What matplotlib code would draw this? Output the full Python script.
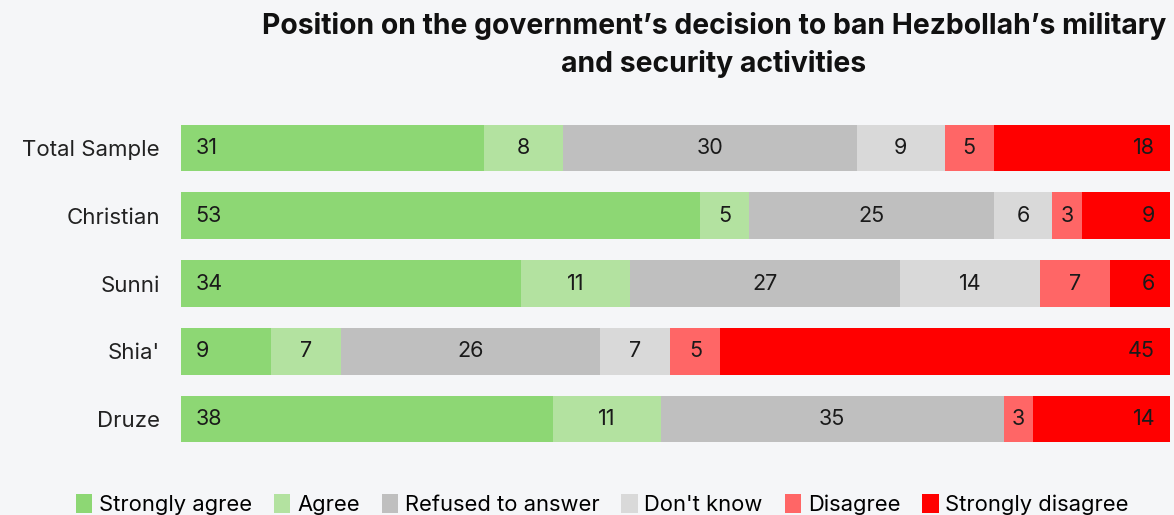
import numpy as np
import matplotlib.pyplot as plt

plt.rcParams['font.family'] = ['Inter', 'DejaVu Sans']

groups = ["Total Sample", "Christian", "Sunni", "Shia'", "Druze"]
series = ["Strongly agree", "Agree", "Refused to answer", "Don't know",
          "Disagree", "Strongly disagree"]
colors = ["#8DD774", "#B3E2A0", "#BFBFBF", "#D9D9D9", "#FF6666", "#FF0000"]

strongly_agree = [31, 53, 34, 9, 38]
agree = [8, 5, 11, 7, 11]
refused = [30, 25, 27, 26, 35]
dont_know = [9, 6, 14, 7, 0]
disagree = [5, 3, 7, 5, 3]
strongly_disagree = [18, 9, 6, 45, 14]

vals = np.array([strongly_agree, agree, refused, dont_know, disagree,
                 strongly_disagree], dtype=float)
# 100% stacked: each row spans the full width
widths = vals / vals.sum(axis=0) * 100

bg = "#F5F6F8"
fig = plt.figure(figsize=(11.74, 5.15), dpi=100, facecolor=bg)
ax = fig.add_axes([0.154, 0.1204, 0.8426, 0.6582], facecolor=bg)

y = np.arange(len(groups))
left = np.zeros(len(groups))
for i, name in enumerate(series):
    bars = ax.barh(y, widths[i], left=left, height=0.69, color=colors[i],
                   label=name)
    for j, b in enumerate(bars):
        v = vals[i, j]
        if v == 0:
            continue
        if i == 0:
            x, ha = left[j] + 1.5, "left"
        elif i == len(series) - 1:
            x, ha = left[j] + widths[i, j] - 1.5, "right"
        else:
            x, ha = left[j] + widths[i, j] / 2, "center"
        ax.text(x, y[j], f"{int(v)}", ha=ha, va="center", fontsize=15.5,
                color="#1a1a1a")
    left += widths[i]

ax.set_xlim(0, 100)
ax.set_ylim(4.5, -0.5)
ax.set_yticks(y)
ax.set_yticklabels(groups, fontsize=16, color="#222222")
ax.tick_params(axis="y", length=0, pad=15)
ax.set_xticks([])
for s in ax.spines.values():
    s.set_visible(False)

fig.text(0.608, 0.913, "Position on the government\u2019s decision to ban Hezbollah\u2019s military\nand security activities",
         ha="center", va="center", fontsize=20.4, fontweight="bold",
         linespacing=1.45, color="#111111")

fig.legend(loc="center", bbox_to_anchor=(0.513, 0.02), ncol=6, frameon=False,
           fontsize=15.8, handlelength=0.75, handleheight=0.9, handletextpad=0.3,
           columnspacing=1.0)

fig.savefig("out.png", dpi=100, facecolor=bg)
